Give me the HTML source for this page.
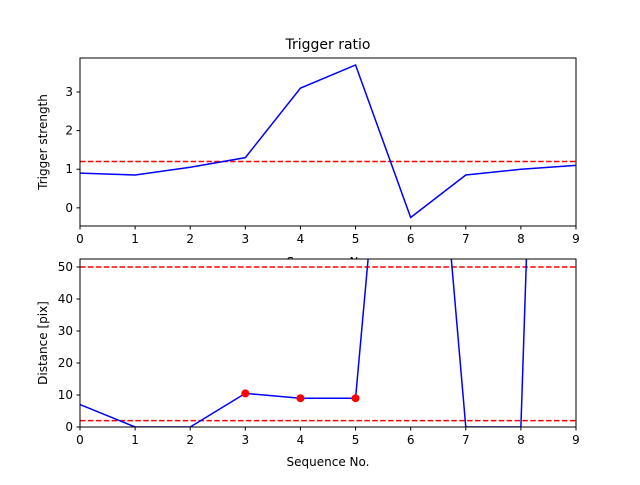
<!DOCTYPE html>
<html><head><meta charset="utf-8"><style>
body{margin:0;background:#fff}
text{font-family:"DejaVu Sans","Liberation Sans",sans-serif;font-size:12px;fill:#000}
</style></head><body>
<svg id="c" width="640" height="480" xmlns="http://www.w3.org/2000/svg"></svg>
<script>
const seq=[0,1,2,3,4,5,6,7,8,9];
const strength=[0.9,0.85,1.05,1.3,3.1,3.7,-0.25,0.85,1.0,1.1];
const strengthThreshold=1.2;
const topYTicks=[0,1,2,3];
const distance=[7,0,0,10.5,9,9,200,0,0,525];
const distThresholds=[2,50];
const markedIdx=[3,4,5];
const botYTicks=[0,10,20,30,40,50];
const xTicks=[0,1,2,3,4,5,6,7,8,9];
const NS="http://www.w3.org/2000/svg";
const svg=document.getElementById('c');
function el(t,a,p){const e=document.createElementNS(NS,t);for(const k in a)e.setAttribute(k,a[k]);(p||svg).appendChild(e);return e;}
function panel(name,top,bot,ymin,ymax,yticks,vals,ths,ylabel,title,marks){
  const L=80,R=576;
  const g=el('g',{});
  
  
  const X=v=>L+(v-0)/9*(R-L), Y=v=>bot-(v-ymin)/(ymax-ymin)*(bot-top);
  el('rect',{x:L,y:top,width:R-L,height:bot-top,fill:'#fff'},g);
  const cp='clip-'+name;
  const d=el('defs',{},g);const c=el('clipPath',{id:cp},d);el('rect',{x:L,y:top,width:R-L,height:bot-top},c);
  const pg=el('g',{'clip-path':'url(#'+cp+')'},g);
  ths.forEach(t=>{const l=el('line',{x1:L,x2:R,y1:Y(t),y2:Y(t),stroke:'#f00','stroke-width':1.5,'stroke-dasharray':'5.5,2.4'},pg);
    
    });
  const pl=el('polyline',{points:seq.map((s,i)=>X(s)+','+Y(vals[i])).join(' '),fill:'none',stroke:'#00f','stroke-width':1.5},pg);
  
  
  (marks||[]).forEach(i=>{const m=el('circle',{cx:X(seq[i]),cy:Y(vals[i]),r:4,fill:'#f00'},pg);
    
    });
  el('rect',{x:L,y:top,width:R-L,height:bot-top,fill:'none',stroke:'#000','stroke-width':1},g);
  xTicks.forEach(t=>{el('line',{x1:X(t),x2:X(t),y1:bot,y2:bot+3.5,stroke:'#000'},g);
    const tx=el('text',{x:X(t),y:bot+17,'text-anchor':'middle'},g);tx.textContent=t;
    
    });
  yticks.forEach(t=>{el('line',{x1:L-3.5,x2:L,y1:Y(t),y2:Y(t),stroke:'#000'},g);
    const tx=el('text',{x:L-7,y:Y(t)+4,'text-anchor':'end'},g);tx.textContent=t;
    
    });
  const yl=el('text',{x:0,y:0,'text-anchor':'middle',transform:'translate('+(L-33)+','+((top+bot)/2)+') rotate(-90)'},g);yl.textContent=ylabel;
  
  
  if(title){const t=el('text',{x:(L+R)/2,y:top-9,'text-anchor':'middle','font-size':'14'},g);t.style.fontSize='14px';t.textContent=title;
    
    }
  return g;
}
panel('top',58,226,-0.47,3.88,topYTicks,strength,[strengthThreshold],'Trigger strength','Trigger ratio');
const hx=el('text',{x:328,y:266,'text-anchor':'middle'});hx.textContent='Sequence No.';


panel('bottom',259,427,0,52.5,botYTicks,distance,distThresholds,'Distance [pix]',null,markedIdx);
const bx=el('text',{x:328,y:466,'text-anchor':'middle'});bx.textContent='Sequence No.';


</script>
</body></html>
